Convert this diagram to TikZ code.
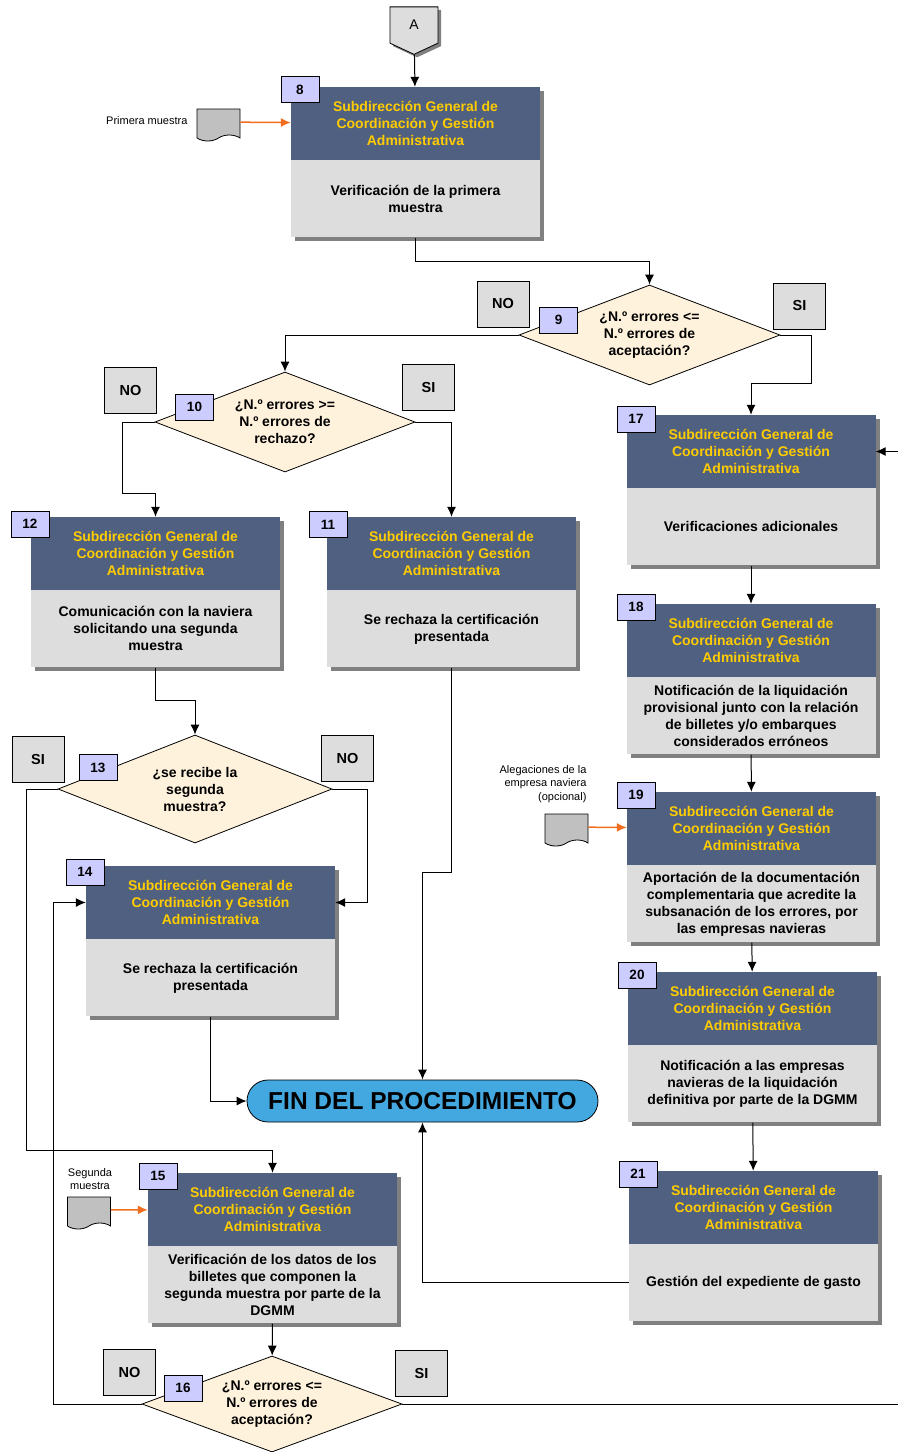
\documentclass[tikz,border=0pt]{standalone}
\usepackage{fontspec}
\setmainfont{Liberation Sans}
\usepackage{tikz}
\usetikzlibrary{positioning,calc,shapes.geometric,shapes.symbols,shadows,arrows.meta}

\definecolor{hdrblue}{RGB}{80,96,128}
\definecolor{hdryellow}{RGB}{255,204,0}
\definecolor{bodygray}{RGB}{221,221,221}
\definecolor{taglila}{RGB}{204,204,255}
\definecolor{askcream}{RGB}{255,242,220}
\definecolor{docgray}{RGB}{192,192,192}
\definecolor{arrorange}{RGB}{240,110,30}
\definecolor{finblue}{RGB}{68,168,224}
\definecolor{finlight}{RGB}{178,226,247}

% 每个流程框的标题
\newcommand{\sgcga}{Subdirección General de\\Coordinación y Gestión\\Administrativa}

\begin{document}
\begin{tikzpicture}
    % 坐标按像素计, y 轴向下
    [x=1pt, y=-1pt,
    HdrNode/.style={rectangle, fill=hdrblue, text=hdryellow, align=center, inner sep=0pt,
        font=\fontsize{14}{17}\selectfont\bfseries, minimum width=249pt, minimum height=73pt,
        drop shadow={shadow xshift=4pt, shadow yshift=-4pt, fill=black!50, opacity=1}},
    BodyNode/.style={rectangle, fill=bodygray, text=black, align=center, inner sep=0pt,
        font=\fontsize{14}{17}\selectfont\bfseries, minimum width=249pt, minimum height=77pt,
        drop shadow={shadow xshift=4pt, shadow yshift=-4pt, fill=black!50, opacity=1}},
    TagNode/.style={rectangle, draw, thick, fill=taglila, minimum width=38pt, minimum height=26pt,
        font=\fontsize{13.5}{15}\selectfont\bfseries},
    AskNode/.style={diamond, draw, thick, fill=askcream, aspect=2.6, inner sep=0pt, align=center,
        font=\fontsize{14}{17}\selectfont\bfseries},
    AnsNode/.style={rectangle, draw, thick, fill=bodygray, minimum width=52pt, minimum height=46pt,
        font=\fontsize{14.5}{16}\selectfont\bfseries},
    DocNode/.style={tape, tape bend top=none, tape bend height=6pt, draw, thick, fill=docgray,
        minimum width=43pt, minimum height=32pt},
    OffNode/.style={signal, signal to=south, signal pointer angle=130, draw, thick, fill=bodygray,
        minimum width=48pt, minimum height=40pt, font=\fontsize{14}{16}\selectfont,
        drop shadow={shadow xshift=3pt, shadow yshift=-3pt, fill=black!50, opacity=1}},
    FinNode/.style={rectangle, rounded corners=21pt, draw, thick, top color=finblue,
        middle color=finlight, bottom color=finblue, minimum width=351pt, minimum height=42pt,
        font=\fontsize{24.5}{28}\selectfont\bfseries},
    NoteNode/.style={font=\fontsize{11}{13.5}\selectfont},
    Arr/.style={line width=1pt, -{Latex[length=10pt,width=9pt]}},
    OrArr/.style={draw=arrorange, line width=1.5pt, -{Latex[length=10pt,width=9pt]}},
    Ln/.style={line width=1pt}]

    \useasboundingbox (0,0) rectangle (898,1452);

    % 连接符 A
    \node[OffNode] (A) at (414,25) {A};

    % 流程框: 标题 + 说明
    \node[HdrNode] (h8) at (415.5,123.5) {\sgcga};
    \node[BodyNode, below=0pt of h8] (b8) {Verificación de la primera\\muestra};

    \node[HdrNode] (h12) at (155.5,553.5) {\sgcga};
    \node[BodyNode, below=0pt of h12] (b12) {Comunicación con la naviera\\solicitando una segunda\\muestra};

    \node[HdrNode] (h11) at (451.5,553.5) {\sgcga};
    \node[BodyNode, below=0pt of h11] (b11) {Se rechaza la certificación\\presentada};

    \node[HdrNode] (h14) at (210.5,902.5) {\sgcga};
    \node[BodyNode, below=0pt of h14] (b14) {Se rechaza la certificación\\presentada};

    \node[HdrNode] (h15) at (272.5,1209.5) {\sgcga};
    \node[BodyNode, below=0pt of h15] (b15) {Verificación de los datos de los\\billetes que componen la\\segunda muestra por parte de la\\DGMM};

    \node[HdrNode] (h17) at (751,451.5) {\sgcga};
    \node[BodyNode, below=0pt of h17] (b17) {Verificaciones adicionales};

    \node[HdrNode] (h18) at (751,640.5) {\sgcga};
    \node[BodyNode, below=0pt of h18] (b18) {Notificación de la liquidación\\provisional junto con la relación\\de billetes y/o embarques\\considerados erróneos};

    \node[HdrNode] (h19) at (751.5,828.5) {\sgcga};
    \node[BodyNode, below=0pt of h19] (b19) {Aportación de la documentación\\complementaria que acredite la\\subsanación de los errores, por\\las empresas navieras};

    \node[HdrNode] (h20) at (752.5,1008.5) {\sgcga};
    \node[BodyNode, below=0pt of h20] (b20) {Notificación a las empresas\\navieras de la liquidación\\definitiva por parte de la DGMM};

    \node[HdrNode] (h21) at (753.5,1207.5) {\sgcga};
    \node[BodyNode, below=0pt of h21] (b21) {Gestión del expediente de gasto};

    % 判断结点
    \node[AskNode, minimum width=261pt, minimum height=100pt] (q9) at (649.5,335) {¿N.º errores <=\\N.º errores de\\aceptación?};
    \node[AskNode, minimum width=260pt, minimum height=100pt] (q10) at (285,422) {¿N.º errores >=\\N.º errores de\\rechazo?};
    \node[AskNode, minimum width=274pt, minimum height=108pt] (q13) at (195,789) {¿se recibe la\\segunda\\muestra?};
    \node[AskNode, minimum width=260pt, minimum height=96pt] (q16) at (272,1404) {¿N.º errores <=\\N.º errores de\\aceptación?};

    % 结束
    \node[FinNode] (fin) at (422.5,1101) {FIN DEL PROCEDIMIENTO};

    % 编号
    \node[TagNode] (t8) at (300,89.5) {8};
    \node[TagNode] (t9) at (558.5,320) {9};
    \node[TagNode] (t10) at (194.5,407) {10};
    \node[TagNode] (t11) at (328,524.5) {11};
    \node[TagNode] (t12) at (30,524) {12};
    \node[TagNode] (t13) at (98,767.5) {13};
    \node[TagNode] (t14) at (85,872) {14};
    \node[TagNode] (t15) at (158,1176) {15};
    \node[TagNode] (t16) at (183,1388) {16};
    \node[TagNode] (t17) at (636,419) {17};
    \node[TagNode] (t18) at (636,607) {18};
    \node[TagNode] (t19) at (636,795) {19};
    \node[TagNode] (t20) at (637,975) {20};
    \node[TagNode] (t21) at (638,1174) {21};

    % SI / NO
    \node[AnsNode] (no9) at (503,304) {NO};
    \node[AnsNode] (si9) at (799.5,306) {SI};
    \node[AnsNode] (no10) at (130.5,390.5) {NO};
    \node[AnsNode] (si10) at (428.5,387) {SI};
    \node[AnsNode] (si13) at (38,759) {SI};
    \node[AnsNode] (no13) at (347.5,758) {NO};
    \node[AnsNode] (no16) at (129.5,1372) {NO};
    \node[AnsNode] (si16) at (421.5,1373) {SI};

    % 文档与说明
    \node[DocNode] (d8) at (218.5,122) {};
    \node[NoteNode, anchor=east] (n8) at (191,121) {Primera muestra};
    \node[DocNode] (d19) at (566.5,827) {};
    \node[NoteNode, anchor=east, align=right] (n19) at (590,784) {Alegaciones de la\\empresa naviera\\(opcional)};
    \node[DocNode] (d15) at (89,1210) {};
    \node[NoteNode, align=center] (n15) at (90,1179) {Segunda\\muestra};

    % 自由端
    \coordinate (in17) at (898,451.5);
    \coordinate (out16) at (898,1404);

    % 连线
    \draw[Arr] (A) -- (h8);
    \draw[Arr] (b8.south) -- ++(0,24) -| (q9.north);
    \draw[Arr] (q9.west) -| (q10.north);
    \draw[Arr] (q9.east) -| (811,383) -| (h17.north);
    \draw[Arr] (q10.west) -| (122,493) -| (h12.north);
    \draw[Arr] (q10.east) -| (h11.north);
    \draw[Arr] (b12.south) -- ++(0,33) -| (q13.north);
    \draw[Arr] (b11.south) -- ++(0,205) -| (fin.north);
    \draw[Arr] (q13.east) -| ($(h14.east)+(32,0)$) -- (h14.east);
    \draw[Arr] (q13.west) -| (26,1150) -| (h15.north);
    \draw[Arr] (b14.south) |- (fin.west);
    \draw[Arr] (b21.west) -| (fin.south);
    \draw[Arr] (in17) -- (h17.east);
    \foreach \a/\b in {b17/h18, b18/h19, b19/h20, b20/h21, b15/q16}
        \draw[Arr] (\a) -- (\b);
    \draw[Arr] (q16.west) -| ($(h14.west)+(-32,0)$) -- (h14.west);
    \draw[Ln] (q16.east) -- (out16);

    % 橙色箭头
    \foreach \a/\b in {d8/h8, d19/h19, d15/h15}
        \draw[OrArr] (\a) -- (\b);
\end{tikzpicture}
\end{document}
